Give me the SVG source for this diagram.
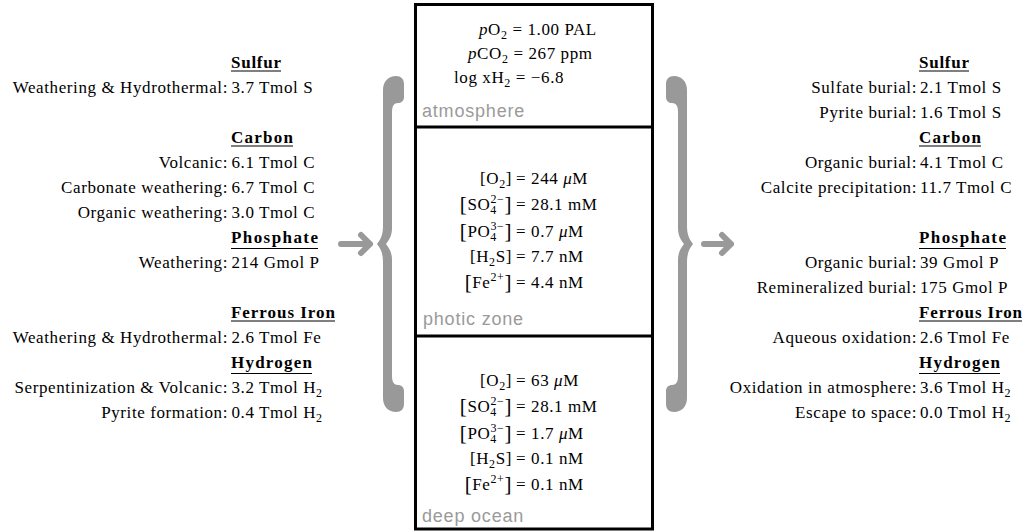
<svg xmlns="http://www.w3.org/2000/svg" width="1026" height="531" viewBox="0 0 1026 531">
<style>
.t{font-family:"Liberation Serif","Times New Roman",serif;font-size:17px;letter-spacing:0.6px;fill:#000}
.e{text-anchor:end}
.h{font-weight:bold;letter-spacing:0}
.i{font-style:italic}
.s{font-size:12px}
.br{font-size:21px}
.ul{stroke:#000;stroke-width:1.2}
.lbl{font-family:"Liberation Sans",Arial,sans-serif;font-size:18px;letter-spacing:0.8px;fill:#9a9a9a}
.box{fill:#fff;stroke:#000;stroke-width:3}
.brace{fill:#999}
.arr{fill:none;stroke:#999;stroke-width:6;stroke-linecap:round;stroke-linejoin:round}
</style>
<defs>
<path id="bracePath" d="M396,76 C401,76 404,79 404,84 L404,97 C404,101 401,103 398,103 C394,103 392,106 392,112 L392,228 C392,236 389,240 386,244 C389,248 392,252 392,260 L392,376 C392,382 394,385 398,385 C401,385 404,387 404,391 L404,404 C404,409 401,412 396,412 C389,412 383,407 383,398 L383,262 C383,254 381,249 377,244 C381,239 383,234 383,226 L383,90 C383,81 389,76 396,76 Z"/>
</defs>

<g id="connectors">
<use href="#bracePath" class="brace"/>
<use href="#bracePath" class="brace" transform="translate(1070,0) scale(-1,1)"/>
<path class="arr" d="M341,244 H370 M361,235 L370,244 L361,253"/>
<path class="arr" d="M704,244 H731 M722,235 L731,244 L722,253"/>
</g>

<g id="inputs">
<text class="t h" x="231" y="68" textLength="50">Sulfur</text>
<line class="ul" x1="231" y1="71" x2="281" y2="71"/>
<text class="t e" x="228" y="93">Weathering &amp; Hydrothermal:</text>
<text class="t" x="231.5" y="93">3.7 Tmol S</text>

<text class="t h" x="231" y="143" textLength="62">Carbon</text>
<line class="ul" x1="231" y1="146" x2="293" y2="146"/>
<text class="t e" x="228" y="168">Volcanic:</text>
<text class="t" x="231.5" y="168">6.1 Tmol C</text>
<text class="t e" x="228" y="193">Carbonate weathering:</text>
<text class="t" x="231.5" y="193">6.7 Tmol C</text>
<text class="t e" x="228" y="218">Organic weathering:</text>
<text class="t" x="231.5" y="218">3.0 Tmol C</text>

<text class="t h" x="231" y="243" textLength="87">Phosphate</text>
<line class="ul" x1="231" y1="248.5" x2="318" y2="248.5"/>
<text class="t e" x="228" y="268">Weathering:</text>
<text class="t" x="231.5" y="268">214 Gmol P</text>

<text class="t h" x="231" y="318" textLength="104">Ferrous Iron</text>
<line class="ul" x1="231" y1="321" x2="335" y2="321"/>
<text class="t e" x="228" y="343">Weathering &amp; Hydrothermal:</text>
<text class="t" x="231.5" y="343">2.6 Tmol Fe</text>

<text class="t h" x="231" y="368" textLength="81">Hydrogen</text>
<line class="ul" x1="231" y1="373.5" x2="312" y2="373.5"/>
<text class="t e" x="228" y="393">Serpentinization &amp; Volcanic:</text>
<text class="t" x="231.5" y="393">3.2 Tmol H<tspan class="s" dy="4">2</tspan></text>
<text class="t e" x="228" y="418">Pyrite formation:</text>
<text class="t" x="231.5" y="418">0.4 Tmol H<tspan class="s" dy="4">2</tspan></text>
</g>

<g id="reservoirs">
<rect class="box" x="415.5" y="4.5" width="237" height="524.5"/>
<line stroke="#000" stroke-width="3" x1="415.5" y1="127" x2="652.5" y2="127"/>
<line stroke="#000" stroke-width="3" x1="415.5" y1="336" x2="652.5" y2="336"/>
</g>

<g id="atmosphere">
<text class="t" x="479" y="35"><tspan class="i">p</tspan>O<tspan class="s" dy="4">2</tspan><tspan dy="-4"> = 1.00 PAL</tspan></text>
<text class="t" x="468" y="59"><tspan class="i">p</tspan>CO<tspan class="s" dy="4">2</tspan><tspan dy="-4"> = 267 ppm</tspan></text>
<text class="t" x="454" y="83">log xH<tspan class="s" dy="4">2</tspan><tspan dy="-4"> = −6.8</tspan></text>
<text class="lbl" x="422" y="117">atmosphere</text>
</g>

<g id="photic-zone">
<text class="t e" x="512" y="184">[O<tspan class="s" dy="4">2</tspan><tspan dy="-4">]</tspan></text>
<text class="t" x="516" y="184">= 244 <tspan class="i">μ</tspan>M</text>
<text class="t e" x="512" y="210"><tspan class="br" dy="1">[</tspan><tspan dy="-1">SO</tspan><tspan class="s" dy="4">4</tspan><tspan class="s" dx="-6.5" dy="-11">2−</tspan><tspan class="br" dy="8">]</tspan></text>
<text class="t" x="516" y="210">= 28.1 mM</text>
<text class="t e" x="512" y="237"><tspan class="br" dy="1">[</tspan><tspan dy="-1">PO</tspan><tspan class="s" dy="4">4</tspan><tspan class="s" dx="-6.5" dy="-11">3−</tspan><tspan class="br" dy="8">]</tspan></text>
<text class="t" x="516" y="237">= 0.7 <tspan class="i">μ</tspan>M</text>
<text class="t e" x="512" y="262">[H<tspan class="s" dy="4">2</tspan><tspan dy="-4">S]</tspan></text>
<text class="t" x="516" y="262">= 7.7 nM</text>
<text class="t e" x="512" y="288"><tspan class="br" dy="1">[</tspan><tspan dy="-1">Fe</tspan><tspan class="s" dy="-7">2+</tspan><tspan class="br" dy="8">]</tspan></text>
<text class="t" x="516" y="288">= 4.4 nM</text>
<text class="lbl" x="423" y="325">photic zone</text>
</g>

<g id="deep-ocean">
<text class="t e" x="512" y="386">[O<tspan class="s" dy="4">2</tspan><tspan dy="-4">]</tspan></text>
<text class="t" x="516" y="386">= 63 <tspan class="i">μ</tspan>M</text>
<text class="t e" x="512" y="412"><tspan class="br" dy="1">[</tspan><tspan dy="-1">SO</tspan><tspan class="s" dy="4">4</tspan><tspan class="s" dx="-6.5" dy="-11">2−</tspan><tspan class="br" dy="8">]</tspan></text>
<text class="t" x="516" y="412">= 28.1 mM</text>
<text class="t e" x="512" y="439"><tspan class="br" dy="1">[</tspan><tspan dy="-1">PO</tspan><tspan class="s" dy="4">4</tspan><tspan class="s" dx="-6.5" dy="-11">3−</tspan><tspan class="br" dy="8">]</tspan></text>
<text class="t" x="516" y="439">= 1.7 <tspan class="i">μ</tspan>M</text>
<text class="t e" x="512" y="464">[H<tspan class="s" dy="4">2</tspan><tspan dy="-4">S]</tspan></text>
<text class="t" x="516" y="464">= 0.1 nM</text>
<text class="t e" x="512" y="490"><tspan class="br" dy="1">[</tspan><tspan dy="-1">Fe</tspan><tspan class="s" dy="-7">2+</tspan><tspan class="br" dy="8">]</tspan></text>
<text class="t" x="516" y="490">= 0.1 nM</text>
<text class="lbl" x="422" y="522">deep ocean</text>
</g>

<g id="outputs">
<text class="t h" x="919" y="68" textLength="50">Sulfur</text>
<line class="ul" x1="919" y1="71" x2="969" y2="71"/>
<text class="t e" x="917" y="93">Sulfate burial:</text>
<text class="t" x="920" y="93">2.1 Tmol S</text>
<text class="t e" x="917" y="118">Pyrite burial:</text>
<text class="t" x="920" y="118">1.6 Tmol S</text>

<text class="t h" x="919" y="143" textLength="62">Carbon</text>
<line class="ul" x1="919" y1="146" x2="981" y2="146"/>
<text class="t e" x="917" y="168">Organic burial:</text>
<text class="t" x="920" y="168">4.1 Tmol C</text>
<text class="t e" x="917" y="193">Calcite precipitation:</text>
<text class="t" x="920" y="193">11.7 Tmol C</text>

<text class="t h" x="919" y="243" textLength="87">Phosphate</text>
<line class="ul" x1="919" y1="248.5" x2="1006" y2="248.5"/>
<text class="t e" x="917" y="268">Organic burial:</text>
<text class="t" x="920" y="268">39 Gmol P</text>
<text class="t e" x="917" y="293">Remineralized burial:</text>
<text class="t" x="920" y="293">175 Gmol P</text>

<text class="t h" x="919" y="318" textLength="103">Ferrous Iron</text>
<line class="ul" x1="919" y1="321" x2="1022" y2="321"/>
<text class="t e" x="917" y="343">Aqueous oxidation:</text>
<text class="t" x="920" y="343">2.6 Tmol Fe</text>

<text class="t h" x="919" y="368" textLength="81">Hydrogen</text>
<line class="ul" x1="919" y1="373.5" x2="1000" y2="373.5"/>
<text class="t e" x="917" y="393">Oxidation in atmosphere:</text>
<text class="t" x="920" y="393">3.6 Tmol H<tspan class="s" dy="4">2</tspan></text>
<text class="t e" x="917" y="418">Escape to space:</text>
<text class="t" x="920" y="418">0.0 Tmol H<tspan class="s" dy="4">2</tspan></text>
</g>
</svg>
